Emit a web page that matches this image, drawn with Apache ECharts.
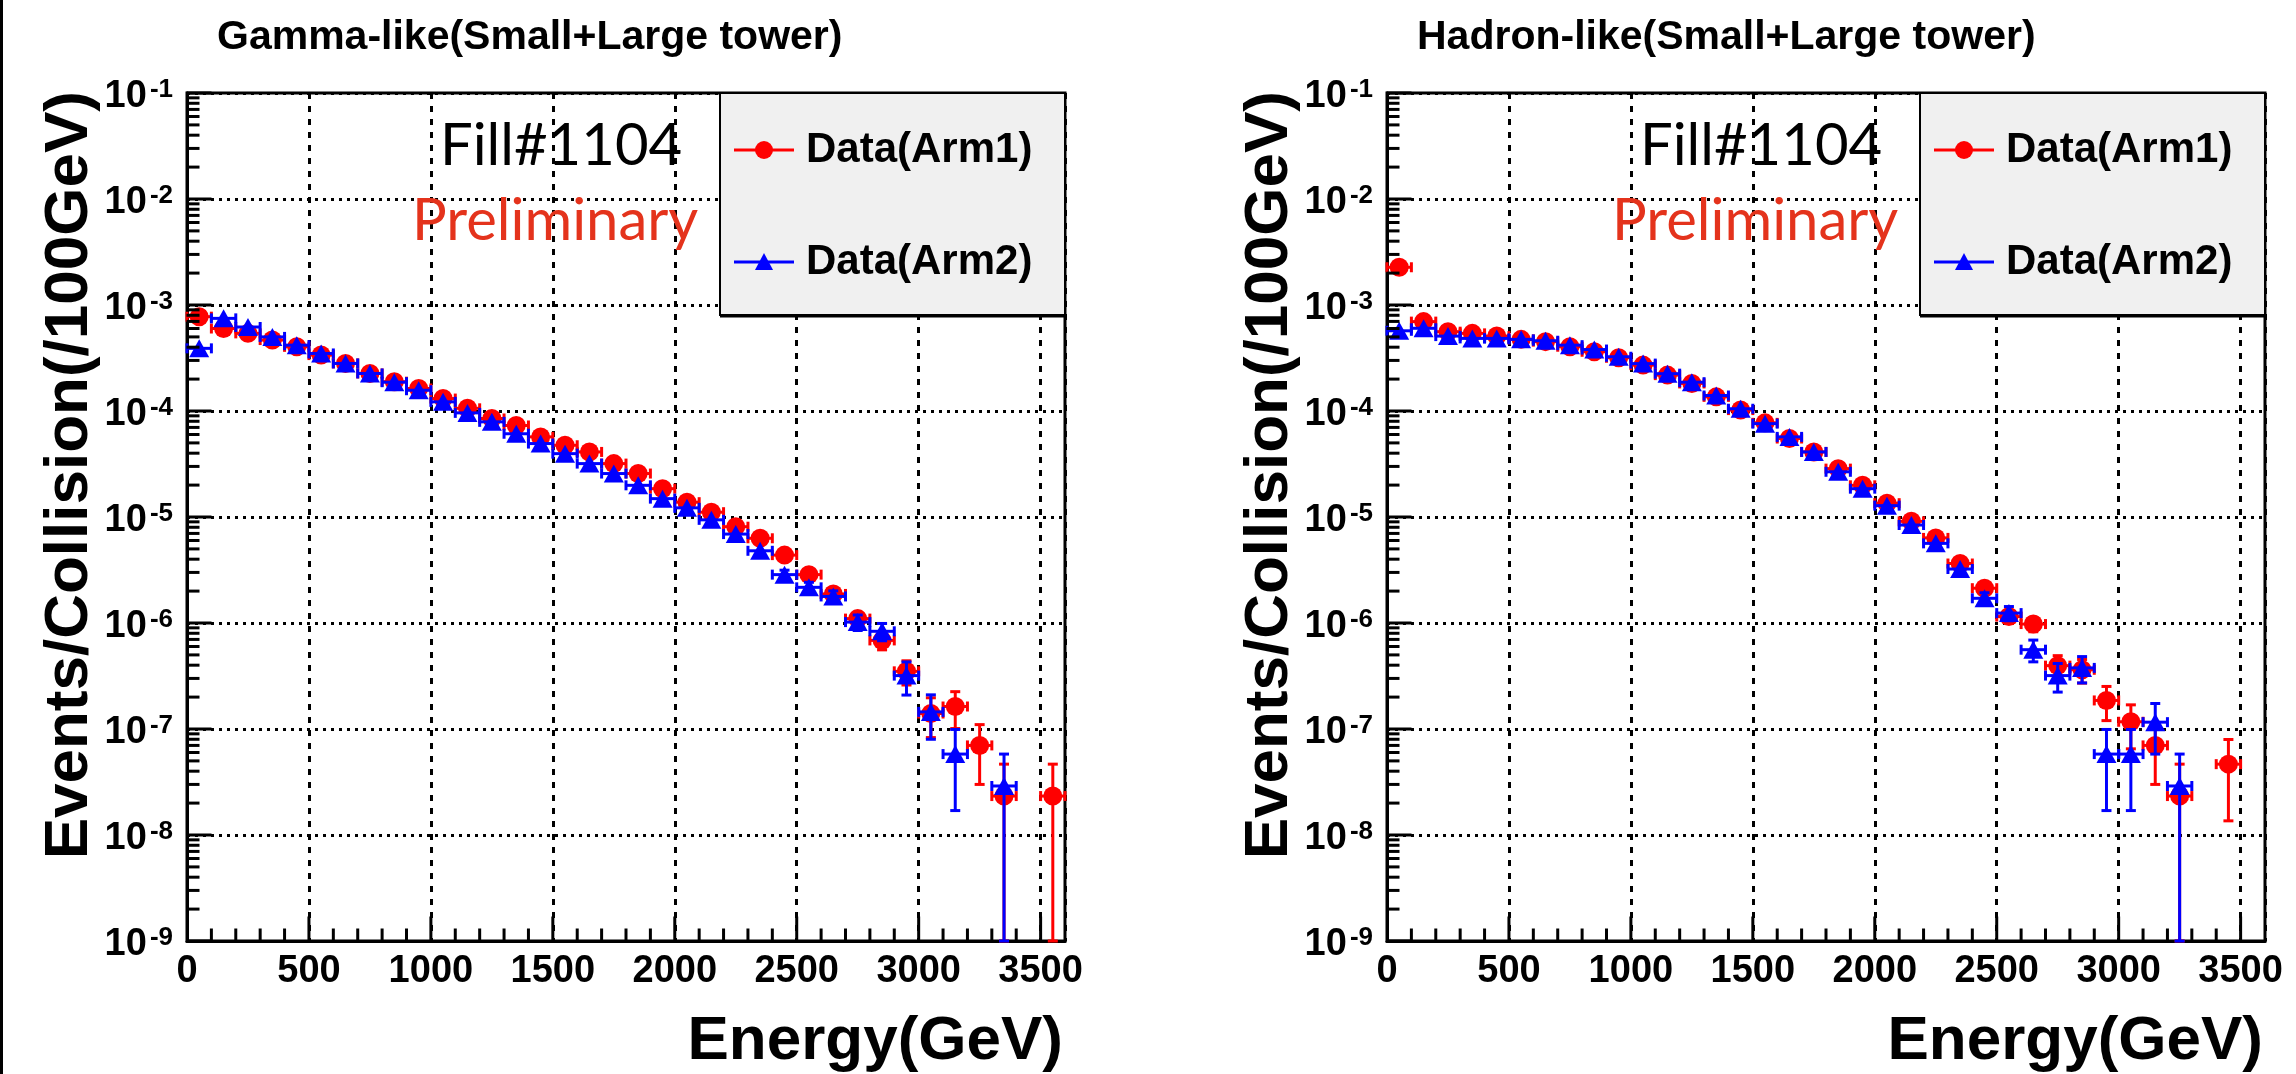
<!DOCTYPE html>
<html>
<head>
<meta charset="utf-8">
<script src="https://cdn.jsdelivr.net/npm/echarts@6/dist/echarts.min.js"></script>
</head>
<body style="margin:0;background:#fff">
<div id="container" style="width:2296px;height:1074px"></div>
<script>
// bin centres (GeV), 100 GeV wide bins
var energy = [50, 150, 250, 350, 450, 550, 650, 750, 850, 950,
  1050, 1150, 1250, 1350, 1450, 1550, 1650, 1750, 1850, 1950,
  2050, 2150, 2250, 2350, 2450, 2550, 2650, 2750, 2850, 2950,
  3050, 3150, 3250, 3350, 3450, 3550];

// Gamma-like, Arm1 (red) / Arm2 (blue)
var gammaArm1 = [7.76e-4, 6.0e-4, 5.4e-4, 4.67e-4, 4.03e-4, 3.37e-4, 2.81e-4, 2.26e-4, 1.89e-4, 1.63e-4,
  1.31e-4, 1.06e-4, 8.5e-5, 7.3e-5, 5.7e-5, 4.75e-5, 4.11e-5, 3.19e-5, 2.57e-5, 1.85e-5,
  1.38e-5, 1.11e-5, 8.1e-6, 6.3e-6, 4.37e-6, 2.86e-6, 1.88e-6, 1.10e-6, 6.85e-7, 3.5e-7,
  1.40e-7, 1.63e-7, 7.0e-8, 2.33e-8, null, 2.33e-8];
var gammaArm1Err = [null, null, null, null, null, null, null, null, null, null,
  null, null, null, null, null, null, null, null, null, null,
  null, null, null, null, 3.2e-7, 2.6e-7, 2.1e-7, 1.6e-7, 1.27e-7, 9.0e-8,
  5.7e-8, 6.2e-8, 4.0e-8, 2.33e-8, null, 2.33e-8];
var gammaArm2 = [3.9e-4, 7.48e-4, 6.2e-4, 5.0e-4, 4.18e-4, 3.49e-4, 2.81e-4, 2.26e-4, 1.87e-4, 1.57e-4,
  1.22e-4, 9.6e-5, 7.9e-5, 6.1e-5, 4.93e-5, 3.96e-5, 3.19e-5, 2.57e-5, 1.99e-5, 1.49e-5,
  1.22e-5, 9.4e-6, 6.9e-6, 4.8e-6, 2.86e-6, 2.17e-6, 1.78e-6, 1.02e-6, 8.35e-7, 3.19e-7,
  1.45e-7, 5.8e-8, null, 2.9e-8, null, null];
var gammaArm2Err = [null, null, null, null, null, null, null, null, null, null,
  null, null, null, null, null, null, null, null, null, null,
  null, null, null, null, 2.9e-7, 2.5e-7, 2.3e-7, 1.7e-7, 1.55e-7, 1.1e-7,
  6.5e-8, 4.1e-8, null, 2.9e-8, null, null];

// Hadron-like, Arm1 (red) / Arm2 (blue)
var hadronArm1 = [2.27e-3, 6.97e-4, 5.6e-4, 5.4e-4, 5.09e-4, 4.74e-4, 4.51e-4, 4.04e-4, 3.62e-4, 3.18e-4,
  2.71e-4, 2.18e-4, 1.82e-4, 1.36e-4, 1.02e-4, 7.73e-5, 5.5e-5, 4.11e-5, 2.86e-5, 1.99e-5,
  1.35e-5, 9.1e-6, 6.35e-6, 3.64e-6, 2.13e-6, 1.15e-6, 9.77e-7, 3.96e-7, 3.62e-7, 1.86e-7,
  1.17e-7, 7.0e-8, 2.33e-8, null, 4.66e-8, null];
var hadronArm1Err = [null, null, null, null, null, null, null, null, null, null,
  null, null, null, null, null, null, null, null, null, null,
  null, null, null, null, 2.2e-7, 1.6e-7, 1.5e-7, 9.6e-8, 9.1e-8, 6.6e-8,
  5.2e-8, 4.0e-8, 2.33e-8, null, 3.3e-8, null];
var hadronArm2 = [5.71e-4, 6.03e-4, 5.09e-4, 4.84e-4, 4.84e-4, 4.74e-4, 4.6e-4, 4.18e-4, 3.8e-4, 3.25e-4,
  2.8e-4, 2.25e-4, 1.87e-4, 1.4e-4, 1.05e-4, 7.6e-5, 5.7e-5, 4.11e-5, 2.67e-5, 1.85e-5,
  1.28e-5, 8.4e-6, 5.64e-6, 3.23e-6, 1.71e-6, 1.24e-6, 5.6e-7, 3.19e-7, 3.77e-7, 5.8e-8,
  5.8e-8, 1.16e-7, 2.9e-8, null, null, null];
var hadronArm2Err = [null, null, null, null, null, null, null, null, null, null,
  null, null, null, null, null, null, null, null, null, null,
  null, null, null, null, 2.2e-7, 1.9e-7, 1.3e-7, 9.6e-8, 1.05e-7, 4.1e-8,
  4.1e-8, 5.8e-8, 2.9e-8, null, null, null];

var xTickLabels = ['0', '500', '1000', '1500', '2000', '2500', '3000', '3500'];
var yTickExps = [-9, -8, -7, -6, -5, -4, -3, -2, -1];
var panelTitles = ['Gamma-like(Small+Large tower)', 'Hadron-like(Small+Large tower)'];
var legendNames = ['Data(Arm1)', 'Data(Arm2)'];
var fillText = 'Fill#1104';
var prelimText = 'Preliminary';
var xTitle = 'Energy(GeV)';
var yTitle = 'Events/Collision(/100GeV)';

var FONT = '"Liberation Sans", Arial, Helvetica, sans-serif';
var GILL = 'Lato, "Open Sans", sans-serif';
var RED = '#ff0000', BLUE = '#0000ff';
var X_MAX = 3600, Y_MIN = 1e-9, Y_MAX = 1e-1, HALF_BIN = 50;

var frames = [
  {left: 187, top: 93, width: 878, height: 848},
  {left: 1387, top: 93, width: 878, height: 848}
];
var panels = [
  {arm1: gammaArm1, arm1Err: gammaArm1Err, arm2: gammaArm2, arm2Err: gammaArm2Err},
  {arm1: hadronArm1, arm1Err: hadronArm1Err, arm2: hadronArm2, arm2Err: hadronArm2Err}
];

// tick positions of the ROOT frame (drawn inside)
var xMajorTicks = [], xMinorTicks = [], yMajorTicks = [], yMinorTicks = [];
for (var gx = 100; gx < X_MAX; gx += 100) {
  (gx % 500 === 0 ? xMajorTicks : xMinorTicks).push([gx, Y_MIN]);
}
yTickExps.forEach(function (e, k) {
  var base = Math.pow(10, e);
  yMajorTicks.push([0, base]);
  if (k < yTickExps.length - 1) {
    for (var m = 2; m <= 9; m++) yMinorTicks.push([0, m * base]);
  }
});

function points(vals) {
  var out = [];
  for (var i = 0; i < energy.length; i++) {
    if (vals[i] != null) out.push([energy[i], vals[i]]);
  }
  return out;
}
function errPoints(vals, errs) {
  var out = [];
  for (var i = 0; i < energy.length; i++) {
    if (vals[i] != null) out.push([energy[i], vals[i], errs[i] || 0]);
  }
  return out;
}

function errorBars(color) {
  return function (params, api) {
    var x = api.value(0), y = api.value(1), e = api.value(2);
    var c = api.coord([x, y]);
    var l = api.coord([x - HALF_BIN, y]);
    var r = api.coord([x + HALF_BIN, y]);
    var st = {stroke: color, lineWidth: 3};
    var kids = [
      {type: 'line', shape: {x1: l[0], y1: c[1], x2: r[0], y2: c[1]}, style: st},
      {type: 'line', shape: {x1: l[0], y1: c[1] - 5, x2: l[0], y2: c[1] + 5}, style: st},
      {type: 'line', shape: {x1: r[0], y1: c[1] - 5, x2: r[0], y2: c[1] + 5}, style: st}
    ];
    if (e > 0) {
      var t = api.coord([x, y + e]);
      var lo = y - e;
      var b = api.coord([x, lo > Y_MIN ? lo : Y_MIN]);
      kids.push({type: 'line', shape: {x1: c[0], y1: t[1], x2: c[0], y2: b[1]}, style: st});
      kids.push({type: 'line', shape: {x1: c[0] - 5, y1: t[1], x2: c[0] + 5, y2: t[1]}, style: st});
      kids.push({type: 'line', shape: {x1: c[0] - 5, y1: b[1], x2: c[0] + 5, y2: b[1]}, style: st});
    }
    return {type: 'group', children: kids};
  };
}

function tickSeries(i, data, size, offset) {
  return {type: 'scatter', xAxisIndex: i, yAxisIndex: i, z: 6, silent: true, clip: false,
    symbol: 'rect', symbolSize: size, symbolOffset: offset,
    itemStyle: {color: '#000', opacity: 1}, data: data};
}

var grids = [], xAxes = [], yAxes = [], series = [], graphics = [];

frames.forEach(function (f, i) {
  grids.push({left: f.left, top: f.top, width: f.width, height: f.height,
    show: true, borderColor: '#000', borderWidth: 3});

  xAxes.push({
    gridIndex: i, type: 'value', min: 0, max: X_MAX, interval: 500,
    axisLine: {show: true, onZero: false, lineStyle: {color: '#000', width: 3}},
    axisTick: {show: false},
    axisLabel: {margin: 12, fontSize: 38, fontWeight: 'bold', fontFamily: FONT, color: '#000',
      showMaxLabel: false,
      formatter: function (v) { return xTickLabels.indexOf(String(v)) >= 0 ? String(v) : ''; }},
    splitLine: {show: true, lineStyle: {color: '#000', width: 3, type: [6, 7]}}
  });

  yAxes.push({
    gridIndex: i, type: 'log', logBase: 10, min: Y_MIN, max: Y_MAX, splitNumber: 8,
    axisLine: {show: true, onZero: false, lineStyle: {color: '#000', width: 3}},
    axisTick: {show: false},
    minorTick: {show: false},
    splitLine: {show: true, lineStyle: {color: '#000', width: 3, type: [3, 5]}},
    axisLabel: {
      margin: 14, padding: [8, 0, 0, 0],
      formatter: function (v) {
        var e = Math.round(Math.log10(v));
        if (yTickExps.indexOf(e) < 0) return '';
        return '{b|10}{s|' + e + '}';
      },
      rich: {
        b: {fontSize: 38, fontWeight: 'bold', fontFamily: FONT, color: '#000', lineHeight: 40},
        s: {fontSize: 26, fontWeight: 'bold', fontFamily: FONT, color: '#000', lineHeight: 16,
          verticalAlign: 'top', padding: [0, 0, 0, 3]}
      }
    }
  });

  var p = panels[i];
  series.push(tickSeries(i, xMajorTicks, [3, 25], [0, -12]));
  series.push(tickSeries(i, xMinorTicks, [3, 13], [0, -6]));
  series.push(tickSeries(i, yMajorTicks, [25, 3], [12, 0]));
  series.push(tickSeries(i, yMinorTicks, [13, 3], [6, 0]));
  series.push({type: 'custom', xAxisIndex: i, yAxisIndex: i, z: 2, silent: true,
    data: errPoints(p.arm1, p.arm1Err), renderItem: errorBars(RED)});
  series.push({type: 'scatter', xAxisIndex: i, yAxisIndex: i, z: 3, silent: true,
    symbol: 'circle', symbolSize: 19, itemStyle: {color: RED, opacity: 1},
    data: points(p.arm1)});
  series.push({type: 'custom', xAxisIndex: i, yAxisIndex: i, z: 4, silent: true,
    data: errPoints(p.arm2, p.arm2Err), renderItem: errorBars(BLUE)});
  series.push({type: 'scatter', xAxisIndex: i, yAxisIndex: i, z: 5, silent: true,
    symbol: 'triangle', symbolSize: [20, 18], itemStyle: {color: BLUE, opacity: 1},
    data: points(p.arm2)});

  var ox = f.left;
  function text(x, y, str, size, extra) {
    var s = {text: str, x: 0, y: 0, fontSize: size, fontFamily: FONT, fontWeight: 'bold',
      fill: '#000', align: 'left', textAlign: 'left', verticalAlign: 'middle', textVerticalAlign: 'middle'};
    for (var key in (extra || {})) s[key] = extra[key];
    return {type: 'text', x: x, y: y, z: 100, style: s};
  }
  graphics.push(text(ox + 30, 38, panelTitles[i], 41));
  graphics.push(text(ox + 253, 146, fillText, 58, {fontFamily: GILL, fontWeight: 'normal'}));
  graphics.push(text(ox + 225, 221, prelimText, 58, {fontFamily: GILL, fontWeight: 'normal', fill: '#e4331c'}));
  graphics.push(text(ox + f.width - 2, 1042, xTitle, 62, {align: 'right', textAlign: 'right'}));
  var yt = text(ox - 117, 91, yTitle, 62, {align: 'right', textAlign: 'right'});
  yt.rotation = Math.PI / 2;
  graphics.push(yt);

  // legend box
  var lx = ox + 533;
  graphics.push({type: 'rect', z: 90, shape: {x: lx, y: 93, width: f.width - 533, height: 222},
    style: {fill: '#f0f0f0', stroke: '#000', lineWidth: 2}});
  graphics.push({type: 'line', z: 91, shape: {x1: lx, y1: 316, x2: ox + f.width, y2: 316},
    style: {stroke: '#000', lineWidth: 3}});
  graphics.push({type: 'line', z: 92, shape: {x1: lx + 14, y1: 150, x2: lx + 74, y2: 150},
    style: {stroke: RED, lineWidth: 3}});
  graphics.push({type: 'circle', z: 93, shape: {cx: lx + 44, cy: 150, r: 9}, style: {fill: RED}});
  graphics.push({type: 'line', z: 92, shape: {x1: lx + 14, y1: 262, x2: lx + 74, y2: 262},
    style: {stroke: BLUE, lineWidth: 3}});
  graphics.push({type: 'polygon', z: 93,
    shape: {points: [[lx + 44, 253], [lx + 35, 270], [lx + 53, 270]]}, style: {fill: BLUE}});
  graphics.push(text(lx + 86, 150, legendNames[0], 42));
  graphics.push(text(lx + 86, 262, legendNames[1], 42));
});

// slide border on the far left
graphics.push({type: 'rect', z: 100, shape: {x: 0, y: 0, width: 3, height: 1074}, style: {fill: '#000'}});

var dom = document.getElementById('container');
var myChart = echarts.init(dom, null, {renderer: 'canvas'});
var option = {
  animation: false,
  backgroundColor: '#fff',
  grid: grids,
  xAxis: xAxes,
  yAxis: yAxes,
  series: series,
  graphic: graphics
};
myChart.setOption(option);
</script>
</body>
</html>
